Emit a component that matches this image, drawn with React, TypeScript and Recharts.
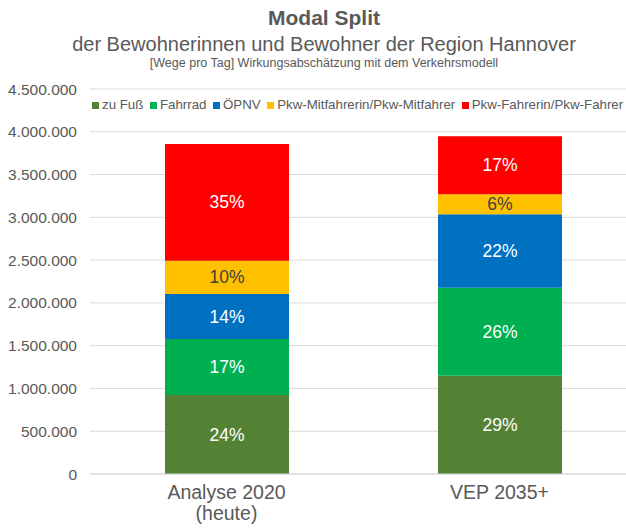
import { BarChart, Bar, XAxis, YAxis, CartesianGrid, LabelList } from "recharts";

const categories = ["Analyse 2020\n(heute)", "VEP 2035+"];

const zuFuss = [923000, 1148000];
const fahrrad = [654000, 1028000];
const oepnv = [526000, 860000];
const mitfahrer = [389000, 233000];
const fahrer = [1365000, 680000];

const yTicks = [0, 500000, 1000000, 1500000, 2000000, 2500000, 3000000, 3500000, 4000000, 4500000];

const series = [
  { key: "zuFuss", name: "zu Fuß", values: zuFuss, color: "#548235", label: "#ffffff" },
  { key: "fahrrad", name: "Fahrrad", values: fahrrad, color: "#00B050", label: "#ffffff" },
  { key: "oepnv", name: "ÖPNV", values: oepnv, color: "#0070C0", label: "#ffffff" },
  { key: "mitfahrer", name: "Pkw-Mitfahrerin/Pkw-Mitfahrer", values: mitfahrer, color: "#FFC000", label: "#404040" },
  { key: "fahrer", name: "Pkw-Fahrerin/Pkw-Fahrer", values: fahrer, color: "#FF0000", label: "#ffffff" },
];

const data = categories.map((name, i) => {
  const row: Record<string, number | string> = { name };
  let total = 0;
  series.forEach((s) => {
    row[s.key] = s.values[i];
    total += s.values[i];
  });
  row.total = total;
  return row;
});

const FONT = '"Liberation Sans", Arial, sans-serif';
const GREY = "#595959";

// German thousands separator
function fmtNum(v: number): string {
  return String(v).replace(/\B(?=(\d{3})+(?!\d))/g, ".");
}

function CategoryTick({ x, y, payload }: any) {
  const lines = String(payload.value).split("\n");
  return (
    <text x={x} y={y} textAnchor="middle" fill={GREY} fontSize={19.5} fontFamily={FONT}>
      {lines.map((l, i) => (
        <tspan key={i} x={x} dy={i === 0 ? 23 : 21}>
          {l}
        </tspan>
      ))}
    </text>
  );
}

function makeLabel(key: string, fill: string) {
  return function PctLabel(props: any) {
    const { x, y, width, height, index } = props;
    const row = data[index];
    const pct = Math.round(((row[key] as number) / (row.total as number)) * 100);
    return (
      <text
        x={x + width / 2}
        y={y + height / 2}
        textAnchor="middle"
        dominantBaseline="central"
        fill={fill}
        fontSize={17.5}
        fontFamily={FONT}
      >
        {pct}%
      </text>
    );
  };
}

export default function App() {
  return (
    <div
      style={{
        position: "absolute",
        left: 0,
        top: 0,
        width: 626,
        height: 530,
        overflow: "hidden",
        background: "#fff",
        fontFamily: FONT,
      }}
    >
      <div style={{ position: "absolute", left: 0, top: 0, width: 648, textAlign: "center", color: GREY }}>
        <div style={{ position: "absolute", top: 5, width: "100%", fontSize: 21, fontWeight: "bold", lineHeight: "26px" }}>
          Modal Split
        </div>
        <div style={{ position: "absolute", top: 32, width: "100%", fontSize: 20, lineHeight: "24px" }}>
          der Bewohnerinnen und Bewohner der Region Hannover
        </div>
        <div style={{ position: "absolute", top: 55, width: "100%", fontSize: 12.5, lineHeight: "16px" }}>
          [Wege pro Tag] Wirkungsabschätzung mit dem Verkehrsmodell
        </div>
      </div>

      <BarChart
        width={640}
        height={530}
        data={data}
        margin={{ top: 89, right: 4, left: 0, bottom: 0 }}
      >
        <CartesianGrid vertical={false} stroke="#d9d9d9" />
        <XAxis
          dataKey="name"
          axisLine={{ stroke: "#d9d9d9" }}
          tickLine={false}
          tickSize={0}
          height={56}
          tick={<CategoryTick />}
          interval={0}
        />
        <YAxis
          domain={[0, 4500000]}
          ticks={yTicks}
          tickFormatter={fmtNum}
          axisLine={false}
          tickLine={false}
          tickSize={0}
          tickMargin={13}
          width={90}
          tick={{ fontSize: 15.5, fill: GREY, fontFamily: FONT }}
        />
        {series.map((s) => (
          <Bar key={s.key} dataKey={s.key} name={s.name} stackId="a" fill={s.color} barSize={124} isAnimationActive={false}>
            <LabelList dataKey={s.key} content={makeLabel(s.key, s.label)} />
          </Bar>
        ))}
      </BarChart>

      <div
        style={{
          position: "absolute",
          left: 92,
          top: 97,
          display: "flex",
          alignItems: "center",
          whiteSpace: "nowrap",
          fontSize: 13.3,
          color: GREY,
          lineHeight: "16px",
        }}
      >
        {series.map((s) => (
          <div key={s.key} style={{ display: "flex", alignItems: "center", marginRight: 6.5 }}>
            <span style={{ width: 7, height: 7, background: s.color, marginRight: 3, display: "inline-block" }} />
            <span>{s.name}</span>
          </div>
        ))}
      </div>
    </div>
  );
}
